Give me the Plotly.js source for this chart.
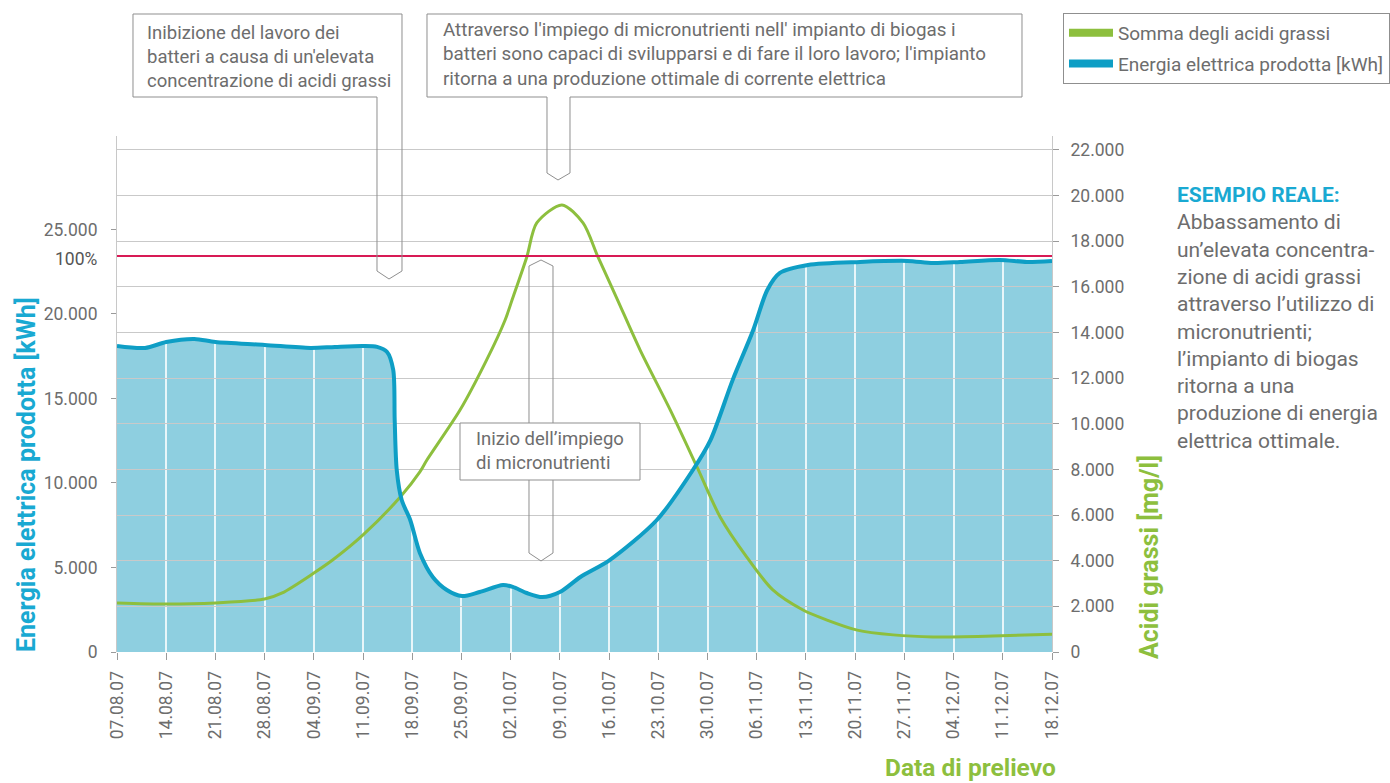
<!DOCTYPE html>
<html>
<head>
<meta charset="utf-8">
<script src="https://cdn.plot.ly/plotly-3.0.1.min.js"></script>
<style>html,body{margin:0;padding:0;background:#fff;}#chart{width:1390px;height:783px;}</style>
</head>
<body>
<div id="chart"></div>
<script>
// ---------- data ----------
const TICK_DATES = ['2007-08-07','2007-08-14','2007-08-21','2007-08-28','2007-09-04','2007-09-11','2007-09-18','2007-09-25','2007-10-02','2007-10-09','2007-10-16','2007-10-23','2007-10-30','2007-11-06','2007-11-13','2007-11-20','2007-11-27','2007-12-04','2007-12-11','2007-12-18'];
const TICK_LABELS = ['07.08.07','14.08.07','21.08.07','28.08.07','04.09.07','11.09.07','18.09.07','25.09.07','02.10.07','09.10.07','16.10.07','23.10.07','30.10.07','06.11.07','13.11.07','20.11.07','27.11.07','04.12.07','11.12.07','18.12.07'];

const ENERGY_DATES = ['2007-08-07','2007-08-11','2007-08-14','2007-08-18','2007-08-21','2007-08-28','2007-09-03 12:00','2007-09-07','2007-09-11','2007-09-13','2007-09-14 10:00','2007-09-15 07:00','2007-09-15 12:00','2007-09-15 19:00','2007-09-16 12:00','2007-09-17 17:00','2007-09-19 02:00','2007-09-20 22:00','2007-09-22 22:00','2007-09-25 02:00','2007-09-27 14:00','2007-09-30 22:00','2007-10-02 07:00','2007-10-04 07:00','2007-10-06 12:00','2007-10-09','2007-10-11 22:00','2007-10-16 02:00','2007-10-22 19:00','2007-10-27 22:00','2007-10-30 10:00','2007-11-02 14:00','2007-11-05 12:00','2007-11-07 12:00','2007-11-09 07:00','2007-11-13 07:00','2007-11-20 17:00','2007-11-27 10:00','2007-12-01 02:00','2007-12-04 22:00','2007-12-10 14:00','2007-12-14 10:00','2007-12-18'];
const ENERGY_KWH = [18100,17990,18340,18520,18340,18170,17990,18050,18100,18050,17750,16690,13730,10770,8990,7810,5860,4440,3670,3310,3550,3960,3850,3490,3250,3550,4440,5440,7810,10770,12540,16100,19050,21420,22430,22900,23080,23140,23020,23080,23200,23080,23140];

const ACID_DATES = ['2007-08-07','2007-08-14','2007-08-21','2007-08-28','2007-08-30 12:00','2007-09-04','2007-09-06 16:00','2007-09-11','2007-09-16 07:00','2007-09-19 02:00','2007-09-20 02:00','2007-09-24 19:00','2007-09-28 14:00','2007-10-01 05:00','2007-10-02 07:00','2007-10-04 07:00','2007-10-05 17:00','2007-10-09 07:00','2007-10-12 07:00','2007-10-14 10:00','2007-10-17 02:00','2007-10-20 10:00','2007-10-24 17:00','2007-10-28 12:00','2007-10-31 19:00','2007-11-04 14:00','2007-11-08 07:00','2007-11-12 14:00','2007-11-16','2007-11-20 07:00','2007-11-25 10:00','2007-12-01 02:00','2007-12-09 14:00','2007-12-18'];
const ACID_MG = [2150,2100,2150,2320,2590,3460,4030,5130,6790,7890,8410,10600,12800,14550,15510,17310,18800,19590,18800,17310,15510,13230,10600,8110,5920,4160,2720,1840,1400,960,750,660,700,780];

const REF_100 = 23430;                       // "100%" production level [kWh]
const LEFT_TICKS  = [0,5000,10000,15000,20000,25000];
const LEFT_LABELS = ['0','5.000','10.000','15.000','20.000','25.000'];
const RIGHT_TICKS  = [0,2000,4000,6000,8000,10000,12000,14000,16000,18000,20000,22000];
const RIGHT_LABELS = ['0','2.000','4.000','6.000','8.000','10.000','12.000','14.000','16.000','18.000','20.000','22.000'];

// ---------- style ----------
const GREY = '#6d6d6d', FONT = 'Roboto, "Open Sans", sans-serif';
const BLUE = '#0E9EC5', FILL = '#8ECFE0', GREEN = '#8DBF3E', RED = '#D81A55', CYAN = '#19A9D2';
const L = 117, R = 1052, T = 136, B = 652;
const px = x => (x - L) / (R - L);
const py = y => (B - y) / (B - T);
const path = pts => 'M' + pts.map(p => px(p[0]).toFixed(5) + ',' + py(p[1]).toFixed(5)).join(' L') + ' Z';

const xr = [TICK_DATES[0], TICK_DATES[TICK_DATES.length - 1]];
const leftMax = 30530, rightMax = 22610;

const traces = [
  {x: ENERGY_DATES, y: ENERGY_KWH, xaxis: 'x', yaxis: 'y', type: 'scatter', mode: 'lines',
   fill: 'tozeroy', fillcolor: FILL, line: {width: 0, shape: 'spline', smoothing: 0.8}, showlegend: false, hoverinfo: 'skip'},
  {x: ACID_DATES, y: ACID_MG, xaxis: 'x2', yaxis: 'y2', type: 'scatter', mode: 'lines',
   line: {color: GREEN, width: 3, shape: 'spline', smoothing: 0.8}, showlegend: false, name: 'Somma degli acidi grassi'},
  {x: xr, y: [REF_100, REF_100], xaxis: 'x2', yaxis: 'y3', type: 'scatter', mode: 'lines',
   line: {color: RED, width: 2}, showlegend: false, hoverinfo: 'skip'},
  {x: ENERGY_DATES, y: ENERGY_KWH, xaxis: 'x2', yaxis: 'y3', type: 'scatter', mode: 'lines',
   line: {color: BLUE, width: 4, shape: 'spline', smoothing: 0.8}, showlegend: false, name: 'Energia elettrica prodotta [kWh]'},
  {x: [null], y: [null], xaxis: 'x2', yaxis: 'y3', type: 'scatter', mode: 'lines', name: 'Somma degli acidi grassi',
   line: {color: GREEN, width: 8}, legendgroup: 'a', showlegend: true},
  {x: [null], y: [null], xaxis: 'x2', yaxis: 'y3', type: 'scatter', mode: 'lines', name: 'Energia elettrica prodotta [kWh]',
   line: {color: BLUE, width: 8}, legendgroup: 'b', showlegend: true}
];

const tickFont = {family: FONT, size: 17.5, color: GREY};
const boxLine = {color: '#8f8f8f', width: 1};

const layout = {
  width: 1390, height: 783,
  margin: {l: L, r: 1390 - R, t: T, b: 783 - B, autoexpand: false},
  paper_bgcolor: '#fff', plot_bgcolor: 'rgba(0,0,0,0)',
  font: {family: FONT, color: GREY},
  xaxis: {domain: [0, 1], range: xr, type: 'date', visible: false, anchor: 'y', fixedrange: true},
  yaxis: {domain: [0, 1], range: [0, leftMax], visible: false, anchor: 'x', fixedrange: true},
  xaxis2: {domain: [0, 1], range: xr, type: 'date', anchor: 'y2', tickvals: TICK_DATES, ticktext: TICK_LABELS,
    tickangle: -90, tickfont: tickFont, ticks: 'outside', ticklen: 7, tickcolor: '#9a9a9a',
    showgrid: true, gridcolor: 'rgba(255,255,255,0.8)', gridwidth: 2, zeroline: false, showline: false, ticklabelstandoff: 4},
  yaxis2: {domain: [0, 1], range: [0, rightMax], anchor: 'x2', side: 'right', tickvals: RIGHT_TICKS, ticktext: RIGHT_LABELS,
    tickfont: tickFont, ticks: 'outside', ticklen: 6, tickcolor: '#9a9a9a', showline: true, linecolor: '#c8c8c8',
    showgrid: true, gridcolor: '#c9c9c9', gridwidth: 1, zeroline: false, ticklabelstandoff: 8},
  yaxis3: {range: [0, leftMax], overlaying: 'y2', anchor: 'x2', side: 'left', tickvals: LEFT_TICKS, ticktext: LEFT_LABELS,
    tickfont: tickFont, ticks: 'outside', ticklen: 5, tickcolor: '#9a9a9a', showline: true, linecolor: '#c8c8c8',
    showgrid: false, zeroline: false, ticklabelstandoff: 10},
  legend: {x: px(1063), y: py(13), xanchor: 'left', yanchor: 'top', bgcolor: '#fff', bordercolor: '#8f8f8f', borderwidth: 1,
    font: {family: FONT, size: 19, color: GREY}, traceorder: 'grouped', tracegroupgap: 3, itemwidth: 44},
  shapes: [
    {type: 'path', xref: 'paper', yref: 'paper', line: boxLine, fillcolor: 'rgba(0,0,0,0)',
     path: path([[133,14],[402,14],[402,271],[389,279],[377,271],[377,97],[133,97]])},
    {type: 'path', xref: 'paper', yref: 'paper', line: boxLine, fillcolor: 'rgba(0,0,0,0)',
     path: path([[427,14],[1022,14],[1022,97],[570,97],[570,173],[558,180],[547,173],[547,97],[427,97]])},
    {type: 'path', xref: 'paper', yref: 'paper', line: boxLine, fillcolor: 'rgba(0,0,0,0)',
     path: path([[529,266],[541,260],[553,266],[553,553],[541,561],[529,553]])},
    {type: 'rect', xref: 'paper', yref: 'paper', line: boxLine, fillcolor: '#fff',
     x0: px(460), x1: px(640), y0: py(423), y1: py(480)}
  ],
  annotations: [
    {xref: 'paper', yref: 'paper', x: px(100), y: py(259), xanchor: 'right', yanchor: 'middle', showarrow: false,
     text: '100%', font: {family: FONT, size: 17.5, color: '#555'}},
    {xref: 'paper', yref: 'paper', x: px(26), y: py(475), xanchor: 'center', yanchor: 'middle', showarrow: false, textangle: -90,
     text: 'Energia elettrica prodotta [kWh]', font: {family: FONT, size: 25, color: CYAN, weight: 700}},
    {xref: 'paper', yref: 'paper', x: px(1149), y: py(557), xanchor: 'center', yanchor: 'middle', showarrow: false, textangle: -90,
     text: 'Acidi grassi [mg/l]', font: {family: FONT, size: 25, color: GREEN, weight: 700}},
    {xref: 'paper', yref: 'paper', x: px(1058), y: py(767), xanchor: 'right', yanchor: 'middle', showarrow: false,
     text: 'Data di prelievo', font: {family: FONT, size: 24.5, color: GREEN, weight: 700}},
    {xref: 'paper', yref: 'paper', x: px(145), y: py(57), xanchor: 'left', yanchor: 'middle', showarrow: false, align: 'left',
     text: "Inibizione del lavoro dei<br>batteri a causa di un'elevata<br>concentrazione di acidi grassi", font: {family: FONT, size: 18.5, color: GREY}},
    {xref: 'paper', yref: 'paper', x: px(441), y: py(55), xanchor: 'left', yanchor: 'middle', showarrow: false, align: 'left',
     text: "Attraverso l'impiego di micronutrienti nell' impianto di biogas i<br>batteri sono capaci di svilupparsi e di fare il loro lavoro; l'impianto<br>ritorna a una produzione ottimale di corrente elettrica", font: {family: FONT, size: 18.8, color: GREY}},
    {xref: 'paper', yref: 'paper', x: px(474), y: py(451), xanchor: 'left', yanchor: 'middle', showarrow: false, align: 'left',
     text: 'Inizio dell’impiego<br>di micronutrienti', font: {family: FONT, size: 18.5, color: GREY}},
    {xref: 'paper', yref: 'paper', x: px(1175), y: py(181), xanchor: 'left', yanchor: 'top', showarrow: false, align: 'left',
     text: '<span style="color:' + CYAN + ';font-weight:bold">ESEMPIO REALE:</span><br>Abbassamento di<br>un’elevata concentra-<br>zione di acidi grassi<br>attraverso l’utilizzo di<br>micronutrienti;<br>l’impianto di biogas<br>ritorna a una<br>produzione di energia<br>elettrica ottimale.',
     font: {family: FONT, size: 21, color: GREY}}
  ]
};

Plotly.newPlot('chart', traces, layout, {displayModeBar: false, staticPlot: true});
</script>
</body>
</html>
